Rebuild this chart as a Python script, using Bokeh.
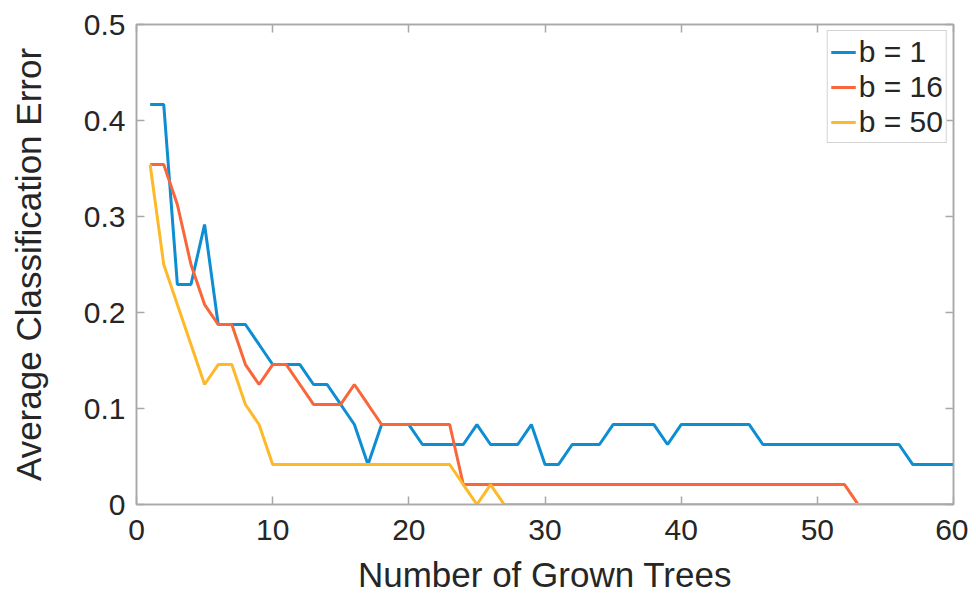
from bokeh.plotting import figure
from bokeh.models import (Range1d, LinearAxis, FixedTicker, CustomJSTickFormatter,
                          Legend, LegendItem)
from bokeh.embed import file_html
from bokeh.resources import INLINE

trees = list(range(1, 61))

err_b1 = [0.4167, 0.4167, 0.2292, 0.2292, 0.2917, 0.1875, 0.1875, 0.1875, 0.1667, 0.1458,
          0.1458, 0.1458, 0.125, 0.125, 0.1042, 0.0833, 0.0417, 0.0833, 0.0833, 0.0833,
          0.0625, 0.0625, 0.0625, 0.0625, 0.0833, 0.0625, 0.0625, 0.0625, 0.0833, 0.0417,
          0.0417, 0.0625, 0.0625, 0.0625, 0.0833, 0.0833, 0.0833, 0.0833, 0.0625, 0.0833,
          0.0833, 0.0833, 0.0833, 0.0833, 0.0833, 0.0625, 0.0625, 0.0625, 0.0625, 0.0625,
          0.0625, 0.0625, 0.0625, 0.0625, 0.0625, 0.0625, 0.0417, 0.0417, 0.0417, 0.0417]

err_b16 = [0.3542, 0.3542, 0.3125, 0.25, 0.2083, 0.1875, 0.1875, 0.1458, 0.125, 0.1458,
           0.1458, 0.125, 0.1042, 0.1042, 0.1042, 0.125, 0.1042, 0.0833, 0.0833, 0.0833,
           0.0833, 0.0833, 0.0833, 0.0208, 0.0208, 0.0208, 0.0208, 0.0208, 0.0208, 0.0208,
           0.0208, 0.0208, 0.0208, 0.0208, 0.0208, 0.0208, 0.0208, 0.0208, 0.0208, 0.0208,
           0.0208, 0.0208, 0.0208, 0.0208, 0.0208, 0.0208, 0.0208, 0.0208, 0.0208, 0.0208,
           0.0208, 0.0208, 0.0, 0.0, 0.0, 0.0, 0.0, 0.0, 0.0, 0.0]

err_b50 = [0.3542, 0.25, 0.2083, 0.1667, 0.125, 0.1458, 0.1458, 0.1042, 0.0833, 0.0417,
           0.0417, 0.0417, 0.0417, 0.0417, 0.0417, 0.0417, 0.0417, 0.0417, 0.0417, 0.0417,
           0.0417, 0.0417, 0.0417, 0.0208, 0.0, 0.0208, 0.0, 0.0, 0.0, 0.0,
           0.0, 0.0, 0.0, 0.0, 0.0, 0.0, 0.0, 0.0, 0.0, 0.0,
           0.0, 0.0, 0.0, 0.0, 0.0, 0.0, 0.0, 0.0, 0.0, 0.0,
           0.0, 0.0, 0.0, 0.0, 0.0, 0.0, 0.0, 0.0, 0.0, 0.0]

series_labels = ["b = 1", "b = 16", "b = 50"]
x_ticks = [0, 10, 20, 30, 40, 50, 60]
y_ticks = [0, 0.1, 0.2, 0.3, 0.4, 0.5]
y_tick_labels = {0: "0", 0.1: "0.1", 0.2: "0.2", 0.3: "0.3", 0.4: "0.4", 0.5: "0.5"}

colors = ["#0E8ED2", "#F8663A", "#FDB928"]
FONT = "Liberation Sans"
TXT = "#262626"
AX = "#a8a8a8"

p = figure(width=968, height=596, output_backend="svg", toolbar_location=None,
           x_range=Range1d(0, 60), y_range=Range1d(0, 0.5),
           min_border_left=136, min_border_right=15, min_border_top=24, min_border_bottom=89)
p.xgrid.visible = False
p.ygrid.visible = False
p.outline_line_color = AX
p.outline_line_width = 1.5
p.background_fill_color = "white"
p.border_fill_color = "white"

for ax in (p.xaxis[0], p.yaxis[0]):
    ax.axis_line_color = AX
    ax.axis_line_width = 1.5
    ax.major_tick_line_color = AX
    ax.major_tick_line_width = 1.5
    ax.major_tick_in = 8
    ax.major_tick_out = 0
    ax.minor_tick_line_color = None
    ax.major_label_text_font = FONT
    ax.major_label_text_font_size = "30px"
    ax.major_label_text_color = TXT
    ax.axis_label_text_font = FONT
    ax.axis_label_text_font_size = "35px"
    ax.axis_label_text_font_style = "normal"
    ax.axis_label_text_color = TXT

p.xaxis[0].ticker = FixedTicker(ticks=x_ticks)
p.yaxis[0].ticker = FixedTicker(ticks=y_ticks)
p.yaxis[0].major_label_overrides = y_tick_labels
p.xaxis[0].axis_label = "Number of Grown Trees"
p.yaxis[0].axis_label = "Average Classification Error"
p.xaxis[0].major_label_standoff = 15
p.xaxis[0].axis_label_standoff = 12
p.yaxis[0].major_label_standoff = 11
p.yaxis[0].axis_label_standoff = 33

blank = CustomJSTickFormatter(code="return ''")
top = LinearAxis(ticker=FixedTicker(ticks=x_ticks), formatter=blank)
right = LinearAxis(ticker=FixedTicker(ticks=y_ticks), formatter=blank)
for ax in (top, right):
    ax.axis_line_color = AX
    ax.axis_line_width = 1.5
    ax.major_tick_line_color = AX
    ax.major_tick_line_width = 1.5
    ax.major_tick_in = 8
    ax.major_tick_out = 0
    ax.minor_tick_line_color = None
    ax.major_label_text_font_size = "1px"
    ax.major_label_standoff = 0
p.add_layout(top, "above")
p.add_layout(right, "right")

renderers = []
for ys, c in zip([err_b1, err_b16, err_b50], colors):
    r = p.line(trees, ys, line_color=c, line_width=3)
    renderers.append(r)

legend = Legend(items=[LegendItem(label=l, renderers=[r]) for l, r in zip(series_labels, renderers)],
                location="top_right")
legend.label_text_font = FONT
legend.label_text_font_size = "30px"
legend.label_text_color = TXT
legend.glyph_width = 25
legend.glyph_height = 20
legend.label_standoff = 3
legend.label_height = 35
legend.spacing = 0
legend.padding = 3
legend.margin = 6
legend.border_line_color = AX
legend.border_line_width = 1.5
legend.background_fill_color = "white"
legend.background_fill_alpha = 1.0
p.add_layout(legend, "center")

open("out.html", "w").write(file_html(p, INLINE))
